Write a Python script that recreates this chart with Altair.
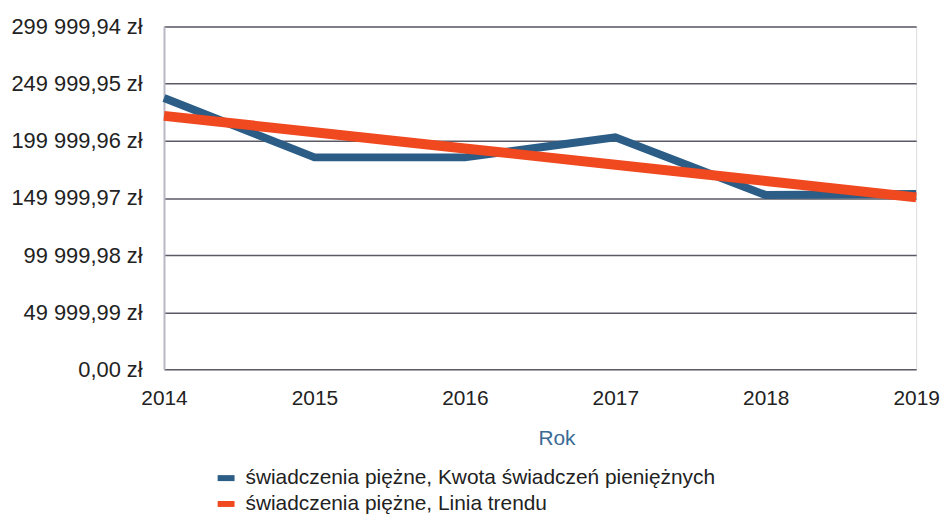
import altair as alt
import pandas as pd

years = [2014, 2015, 2016, 2017, 2018, 2019]
kwota = [237500, 185500, 185500, 203000, 152500, 153500]
trend = [221800, 207500, 193300, 179000, 164800, 150500]
series_names = [
    "świadczenia piężne, Kwota świadczeń pieniężnych",
    "świadczenia piężne, Linia trendu",
]
y_ticks = [0, 49999.99, 99999.98, 149999.97, 199999.96, 249999.95, 299999.94]
colors = ["#2b5d87", "#f0481f"]

df = pd.DataFrame(
    {
        "Rok": years * 2,
        "value": kwota + trend,
        "series": [series_names[0]] * len(years) + [series_names[1]] * len(years),
        "order": [0] * len(years) + [1] * len(years),
    }
)

FONT = "Liberation Sans"

base = alt.Chart(df)

x_enc = alt.X(
    "Rok:Q",
    scale=alt.Scale(domain=[years[0], years[-1]], nice=False, zero=False),
    axis=alt.Axis(
        values=years,
        format="d",
        title="Rok",
        grid=False,
        domain=False,
        ticks=False,
        labelFontSize=21,
        labelColor="#222222",
        labelFont=FONT,
        labelPadding=18,
        titleFont=FONT,
        titleFontSize=21,
        titleFontWeight="normal",
        titleColor="#3b6a94",
        titleX=395,
        titleY=70,
        titleBaseline="middle",
        titleAlign="center",
        labelFlush=False,
    ),
)

y_enc = alt.Y(
    "value:Q",
    scale=alt.Scale(domain=[0, y_ticks[-1]], nice=False),
    axis=alt.Axis(
        values=y_ticks,
        labelExpr="replace(replace(format(datum.value, ',.2f'), ',', ' '), '.', ',') + ' zł'",
        title=None,
        ticks=False,
        domain=True,
        domainColor="#b8b8c4",
        domainWidth=2,
        grid=True,
        gridColor="#5a5a66",
        gridWidth=1.5,
        labelFontSize=22,
        labelColor="#222222",
        labelFont=FONT,
        labelPadding=22,
    ),
)

blue = base.transform_filter(alt.datum.order == 0).mark_line(strokeWidth=8, strokeJoin="miter").encode(
    x=x_enc,
    y=y_enc,
    color=alt.Color(
        "series:N",
        scale=alt.Scale(domain=series_names, range=colors),
        legend=alt.Legend(
            title=None,
            orient="none",
            legendX=51,
            legendY=443,
            symbolType="stroke",
            symbolSize=289,
            symbolStrokeWidth=6,
            labelFontSize=21,
            labelFont=FONT,
            labelColor="#222222",
            labelLimit=700,
            rowPadding=1,
            labelOffset=8,
            padding=0,
        ),
    ),
)

orange = base.transform_filter(alt.datum.order == 1).mark_line(strokeWidth=10).encode(
    x=x_enc,
    y=y_enc,
    color=alt.Color("series:N", scale=alt.Scale(domain=series_names, range=colors)),
)

chart = (
    alt.layer(blue, orange)
    .properties(
        width=757,
        height=345,
        autosize=alt.AutoSizeParams(type="none"),
        padding={"left": 157, "top": 17, "right": 26, "bottom": 148},
    )
    .configure_view(strokeWidth=0, stroke="transparent")
    .configure(background="white")
)

chart.save("out.html", embed_options={"renderer": "svg", "actions": False})
